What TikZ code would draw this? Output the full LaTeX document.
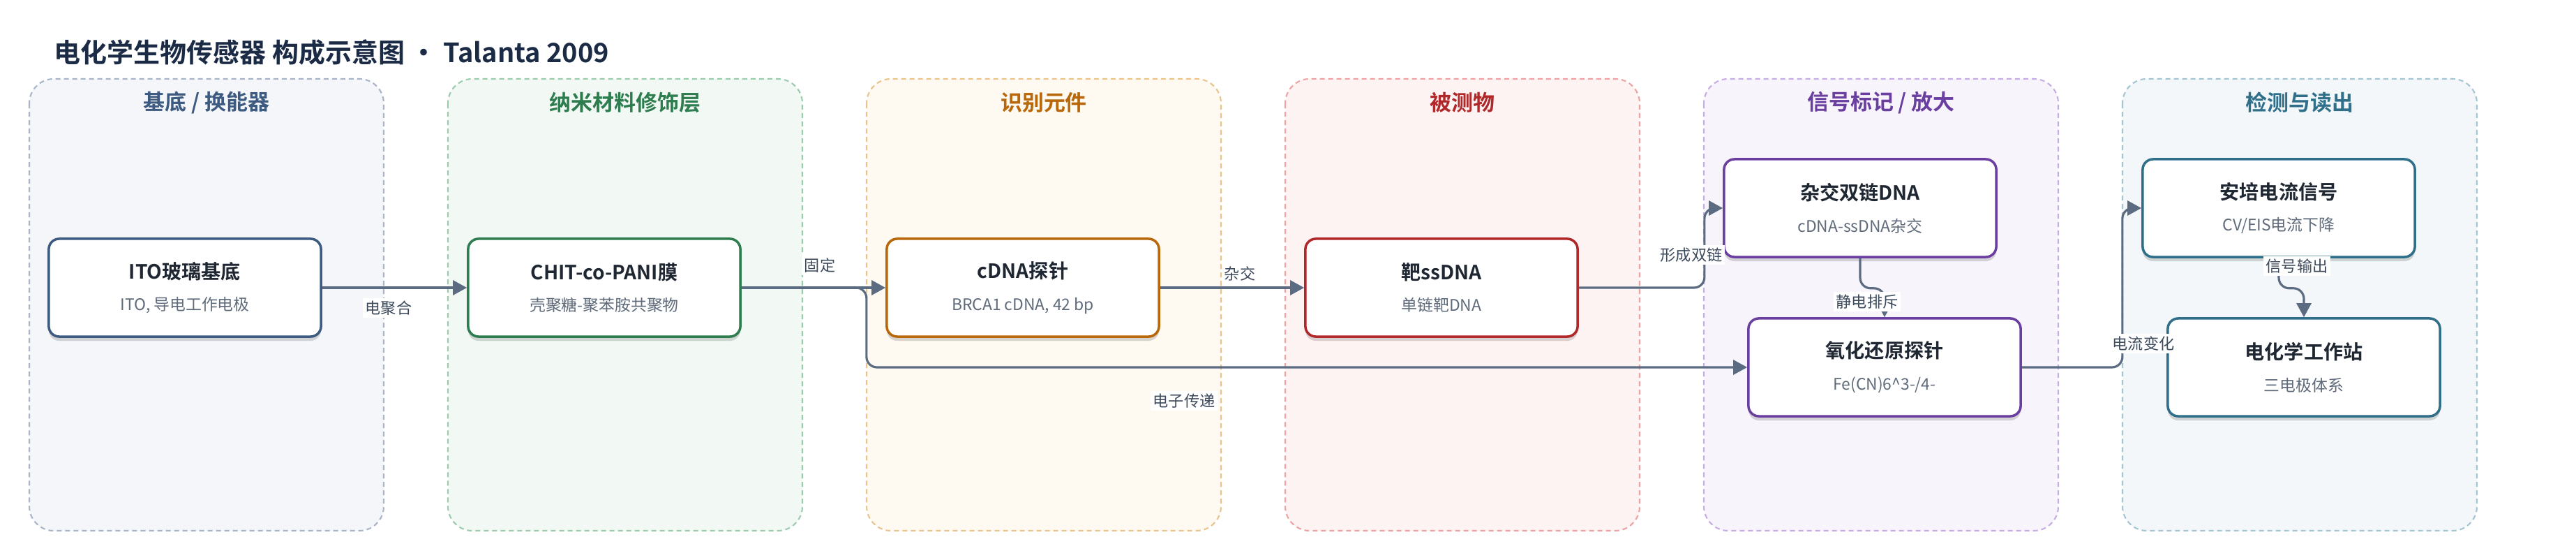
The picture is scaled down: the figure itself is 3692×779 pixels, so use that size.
\documentclass[tikz,border=0pt]{standalone}
\usepackage{fontspec}
\setmainfont{Noto Sans CJK SC}[BoldFont={Noto Sans CJK SC Bold}]
\usetikzlibrary{arrows.meta,shadows,positioning}

\definecolor{titlec}{HTML}{1B2B45}
\definecolor{edgec}{HTML}{5B6B82}
\definecolor{lblc}{HTML}{3D4A5C}
\definecolor{boxtc}{HTML}{1F2733}
\definecolor{subtc}{HTML}{5F6B7A}
\definecolor{subF}{HTML}{F4F6FA}\definecolor{subD}{HTML}{A9B5C7}\definecolor{subH}{HTML}{3D5A80}
\definecolor{nanoF}{HTML}{F2F8F4}\definecolor{nanoD}{HTML}{9CCBAE}\definecolor{nanoH}{HTML}{2E7D4F}
\definecolor{recF}{HTML}{FEF9F1}\definecolor{recD}{HTML}{E9C48E}\definecolor{recH}{HTML}{B8680A}
\definecolor{anaF}{HTML}{FDF3F2}\definecolor{anaD}{HTML}{EDA3A3}\definecolor{anaH}{HTML}{B0282A}
\definecolor{sigF}{HTML}{F7F4FB}\definecolor{sigD}{HTML}{C6ADE3}\definecolor{sigH}{HTML}{6B3FA0}
\definecolor{detF}{HTML}{F3F7F9}\definecolor{detD}{HTML}{A6C5D2}\definecolor{detH}{HTML}{2F6F8A}

\newcommand{\boxtext}[2]{{\bfseries\fontsize{8}{10}\selectfont #1}\\[1pt]{\color{subtc}\fontsize{6.5}{8}\selectfont #2}}

\begin{document}
\begin{tikzpicture}[x=0.01cm, y=-0.01cm,
   lane/.style={rounded corners=0.35cm, dash pattern=on 0.7mm off 0.5mm, line width=0.6pt},
   lanehead/.style={font=\bfseries\fontsize{8.8}{11}\selectfont},
   box/.style={draw=#1, fill=white, line width=1pt, rounded corners=0.15cm,
      minimum width=3.9cm, minimum height=1.4cm, align=center, text=boxtc,
      drop shadow={shadow xshift=0pt, shadow yshift=-0.6mm, opacity=0.15, fill=black}},
   flow/.style={draw=edgec, line width=0.9pt, rounded corners=0.15cm,
      -{Triangle[length=2mm,width=2.1mm]}},
   lbl/.style={fill=white, inner sep=1pt, text=lblc, font=\fontsize{6.3}{7}\selectfont}]

\useasboundingbox (0,0) rectangle (3692,779);

\node[anchor=base west, inner sep=0pt, text=titlec, font=\bfseries\fontsize{10.8}{13}\selectfont] (title) at (77,90)
   {电化学生物传感器 构成示意图 · Talanta 2009};

\foreach \i/\nm/\txt in {0/sub/{基底 / 换能器}, 1/nano/{纳米材料修饰层}, 2/rec/{识别元件},
                         3/ana/{被测物}, 4/sig/{信号标记 / 放大}, 5/det/{检测与读出}} {
   \draw[lane, draw=\nm D, fill=\nm F] (42+600*\i,113) rectangle ++(508,647);
   \node[lanehead, text=\nm H] at (296+600*\i,147) {\txt};
}

\node[box=subH] (ito) at (265,412) {\boxtext{ITO玻璃基底}{ITO, 导电工作电极}};
\node[box=nanoH] (chit) at (866,412) {\boxtext{CHIT-co-PANI膜}{壳聚糖-聚苯胺共聚物}};
\node[box=recH] (cdna) at (1466,412) {\boxtext{cDNA探针}{BRCA1 cDNA, 42 bp}};
\node[box=anaH] (target) at (2066,412) {\boxtext{靶ssDNA}{单链靶DNA}};
\node[box=sigH] (dsdna) at (2666,298) {\boxtext{杂交双链DNA}{cDNA-ssDNA杂交}};
\node[box=sigH] (redox) at (2701,526) {\boxtext{氧化还原探针}{Fe(CN)6\^{}3-/4-}};
\node[box=detH] (amp) at (3266,298) {\boxtext{安培电流信号}{CV/EIS电流下降}};
\node[box=detH] (station) at (3302,526) {\boxtext{电化学工作站}{三电极体系}};

\draw[flow] (ito.east) -- (chit.west);
\draw[flow] (chit.east) -- (cdna.west);
\draw[flow] (chit.east) -- ++(179,0) |- (redox.west);
\draw[flow] (cdna.east) -- (target.west);
\draw[flow] (target.east) -- ++(180,0) |- (dsdna.west);
\draw[flow] (dsdna.south) -- ++(0,43) -| (redox.north);
\draw[flow] (redox.east) -- ++(144,0) |- (amp.west);
\draw[flow] (amp.south) -- ++(0,43) -| (station.north);

\node[lbl] at (557,441) {电聚合};
\node[lbl] at (1175,380) {固定};
\node[lbl] at (1697,574) {电子传递};
\node[lbl] at (1777,392) {杂交};
\node[lbl] at (2424,365) {形成双链};
\node[lbl] at (2676,432) {静电排斥};
\node[lbl] at (3072,492) {电流变化};
\node[lbl] at (3292,381) {信号输出};

\end{tikzpicture}
\end{document}
